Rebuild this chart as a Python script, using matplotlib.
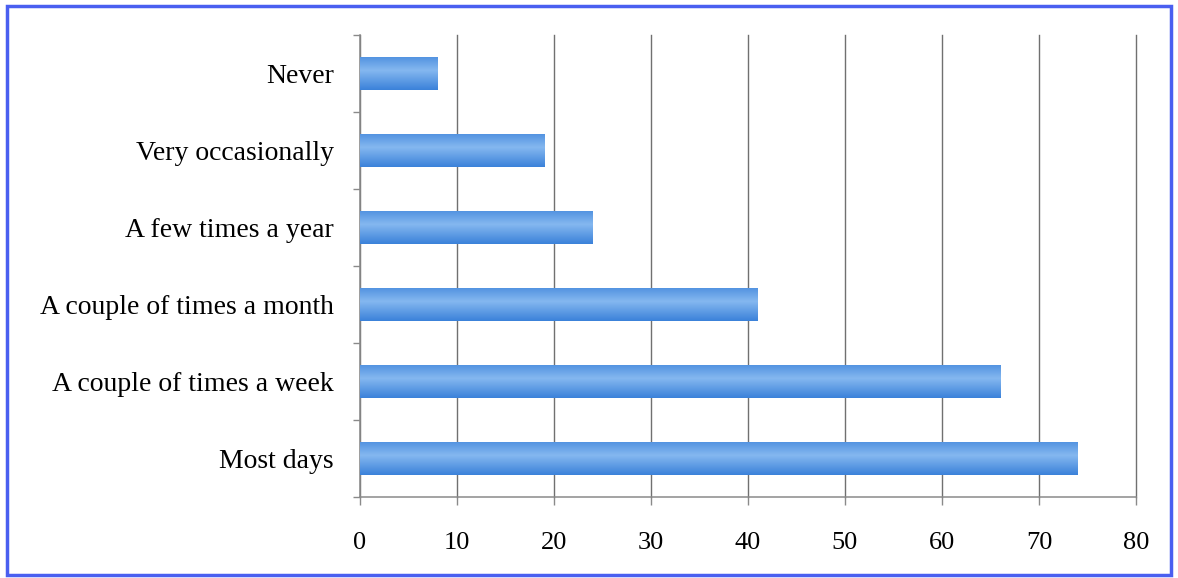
import matplotlib.pyplot as plt
import matplotlib.patches as patches
import numpy as np

# data
categories = ['Most days', 'A couple of times a week', 'A couple of times a month',
              'A few times a year', 'Very occasionally', 'Never']
values = [74, 66, 41, 24, 19, 8]
x_ticks = [0, 10, 20, 30, 40, 50, 60, 70, 80]

plt.rcParams['font.family'] = ['Liberation Serif', 'DejaVu Serif']

fig = plt.figure(figsize=(11.78, 5.78), dpi=100)
ax = fig.add_axes([0.3056, 0.1401, 0.6587, 0.7993])

y = np.arange(len(categories))
bars = ax.barh(y, values, height=0.42, color='#5b9be6', zorder=3)

# vertical gradient on each bar (dark edges, light middle)
grad = np.linspace(0, 1, 64).reshape(-1, 1)
shade = 1 - np.abs(grad - 0.4) * 1.6
light = np.array([0.52, 0.72, 0.94])
dark = np.array([0.22, 0.50, 0.85])
img = dark + (light - dark) * np.clip(shade, 0, 1)[:, :, None]
img = img.reshape(64, 1, 3)
for b in bars:
    x0, y0 = b.get_x(), b.get_y()
    w, h = b.get_width(), b.get_height()
    im = ax.imshow(img, extent=[x0, x0 + w, y0, y0 + h], aspect='auto',
                   origin='upper', zorder=4)
    im.set_clip_path(b)

ax.set_xlim(0, 80)
ax.set_ylim(-0.5, len(categories) - 0.5)
ax.set_xticks(x_ticks)
ax.set_yticks(y)
ax.set_yticklabels(categories)
ax.set_yticks(np.arange(-0.5, len(categories), 1), minor=True)

ax.xaxis.grid(True, color='#707070', linewidth=1.0, zorder=0)
for gl in ax.get_xgridlines():
    gl.set_clip_on(False)
ax.set_axisbelow(True)

ax.tick_params(axis='x', length=6, width=1, color='#8a8a8a', pad=19, labelsize=19)
ax.tick_params(axis='y', which='major', length=0, pad=19, labelsize=20)
ax.tick_params(axis='y', which='minor', length=5, width=1, color='#8a8a8a')

for s in ['top', 'right']:
    ax.spines[s].set_visible(False)
for s in ['left', 'bottom']:
    ax.spines[s].set_color('#8a8a8a')
    ax.spines[s].set_linewidth(1.1)

# blue frame around the whole picture
fig.patches.append(patches.Rectangle((0.006, 0.006), 0.988, 0.984,
                                     transform=fig.transFigure, fill=False,
                                     edgecolor='#4a5ff0', linewidth=2.5))

fig.savefig('out.png', dpi=100)
